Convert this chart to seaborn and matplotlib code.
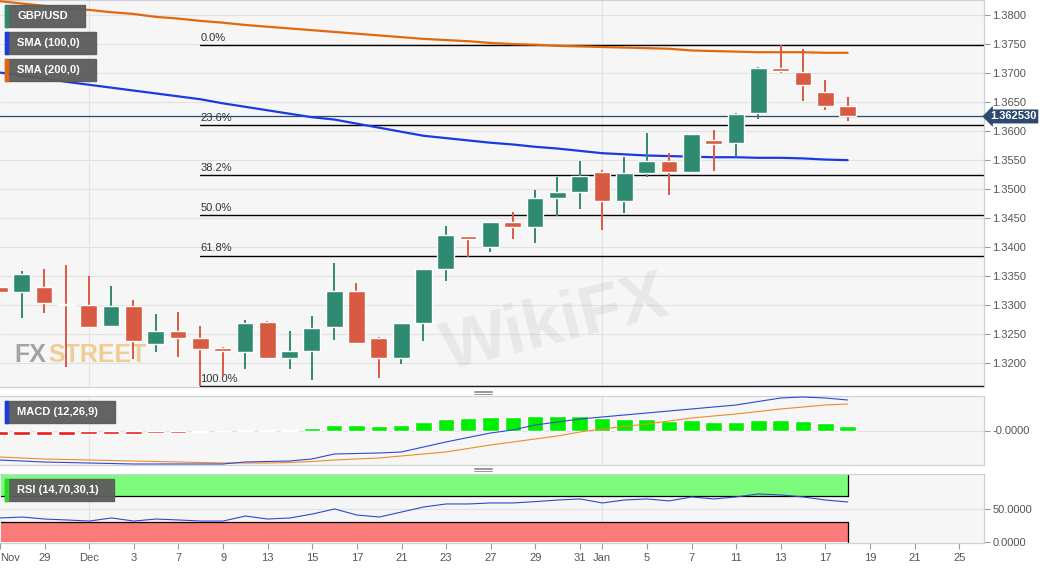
"""Recreate the GBP/USD daily chart with SMA, Fibonacci, MACD and RSI panels."""

from __future__ import annotations

import matplotlib

matplotlib.use("Agg")

import matplotlib.pyplot as plt
import matplotlib.transforms as mtransforms
import seaborn as sns
from matplotlib.lines import Line2D
from matplotlib.patches import Rectangle

OUTPUT_PATH = "out.png"
FIG_W, FIG_H = 1060, 569

# Trading-day index on the x axis: 0 is Mon 29 Nov 2021, 36 is Tue 18 Jan 2022.
DAYS = list(range(-2, 37))

OPEN = [1.3331, 1.3323, 1.3331, 1.3302, 1.3300, 1.3264, 1.3298, 1.3233, 1.3255, 1.3243,
        1.3226, 1.3219, 1.3271, 1.3209, 1.3221, 1.3262, 1.3324, 1.3243, 1.3209, 1.3269,
        1.3362, 1.3419, 1.3400, 1.3443, 1.3435, 1.3485, 1.3495, 1.3529, 1.3479, 1.3528,
        1.3548, 1.3529, 1.3585, 1.3579, 1.3631, 1.3709, 1.3702, 1.3667, 1.3643]
HIGH = [1.3352, 1.3359, 1.3362, 1.3369, 1.3350, 1.3333, 1.3309, 1.3285, 1.3288, 1.3264,
        1.3228, 1.3274, 1.3273, 1.3255, 1.3281, 1.3372, 1.3338, 1.3245, 1.3269, 1.3362,
        1.3436, 1.3420, 1.3443, 1.3460, 1.3498, 1.3521, 1.3548, 1.3533, 1.3555, 1.3597,
        1.3562, 1.3595, 1.3602, 1.3631, 1.3710, 1.3748, 1.3741, 1.3688, 1.3659]
LOW = [1.3305, 1.3278, 1.3286, 1.3193, 1.3260, 1.3262, 1.3207, 1.3219, 1.3210, 1.3161,
       1.3176, 1.3190, 1.3208, 1.3190, 1.3171, 1.3240, 1.3233, 1.3174, 1.3198, 1.3238,
       1.3341, 1.3383, 1.3391, 1.3414, 1.3407, 1.3454, 1.3466, 1.3429, 1.3459, 1.3521,
       1.3490, 1.3528, 1.3531, 1.3555, 1.3621, 1.3700, 1.3652, 1.3636, 1.3617]
CLOSE = [1.3323, 1.3354, 1.3304, 1.3300, 1.3262, 1.3298, 1.3238, 1.3255, 1.3243, 1.3224,
         1.3221, 1.3269, 1.3209, 1.3221, 1.3260, 1.3324, 1.3234, 1.3209, 1.3269, 1.3362,
         1.3421, 1.3414, 1.3443, 1.3435, 1.3485, 1.3495, 1.3522, 1.3479, 1.3528, 1.3548,
         1.3529, 1.3595, 1.3578, 1.3629, 1.3709, 1.3704, 1.3679, 1.3643, 1.36253]

SMA_100 = [1.3701, 1.3696, 1.3691, 1.3685, 1.3680, 1.3675, 1.3670, 1.3665, 1.3660, 1.3655,
           1.3648, 1.3642, 1.3636, 1.3630, 1.3624, 1.3620, 1.3613, 1.3606, 1.3599, 1.3592,
           1.3588, 1.3584, 1.3580, 1.3577, 1.3573, 1.3570, 1.3566, 1.3562, 1.3560, 1.3558,
           1.3557, 1.3556, 1.3555, 1.3555, 1.3554, 1.3554, 1.3553, 1.3551, 1.3550]
SMA_200 = [1.3824, 1.3820, 1.3816, 1.3812, 1.3809, 1.3805, 1.3802, 1.3797, 1.3794, 1.3790,
           1.3787, 1.3783, 1.3780, 1.3777, 1.3774, 1.3771, 1.3768, 1.3765, 1.3762, 1.3759,
           1.3757, 1.3755, 1.3752, 1.3750, 1.3749, 1.3747, 1.3746, 1.3745, 1.3744, 1.3743,
           1.3742, 1.3739, 1.3738, 1.3737, 1.3736, 1.3736, 1.3736, 1.3735, 1.3735]

MACD_LINE = [-0.0059, -0.0061, -0.0063, -0.0064, -0.0065, -0.0066, -0.0067, -0.0067, -0.0067,
             -0.0067, -0.0067, -0.0063, -0.0062, -0.0061, -0.0057, -0.0047, -0.0046, -0.0045,
             -0.0043, -0.0033, -0.0023, -0.0014, -0.0005, 0.0001, 0.0011, 0.0017, 0.0023,
             0.0027, 0.0031, 0.0035, 0.0039, 0.0043, 0.0047, 0.0051, 0.0058, 0.0065, 0.0067,
             0.0065, 0.0061]
MACD_SIGNAL = [-0.0053, -0.0055, -0.0057, -0.0058, -0.0059, -0.0060, -0.0061, -0.0062, -0.0063,
               -0.0064, -0.0065, -0.0065, -0.0065, -0.0064, -0.0062, -0.0059, -0.0057, -0.0055,
               -0.0051, -0.0047, -0.0043, -0.0036, -0.0029, -0.0023, -0.0017, -0.0011, -0.0003,
               0.0003, 0.0008, 0.0013, 0.0019, 0.0025, 0.0029, 0.0033, 0.0038, 0.0043, 0.0047,
               0.0051, 0.0053]
MACD_HIST = [-0.0008, -0.0008, -0.0008, -0.0008, -0.00074, -0.00066, -0.0006, -0.0005, -0.0004,
             -0.00026, -0.00016, 0.0001, 0.00014, 0.0002, 0.0006, 0.0012, 0.0011, 0.0009,
             0.0011, 0.0017, 0.0023, 0.0025, 0.0027, 0.0027, 0.0029, 0.0029, 0.0029, 0.0025,
             0.0023, 0.0023, 0.0019, 0.0021, 0.0017, 0.0017, 0.0021, 0.0021, 0.0019, 0.0015,
             0.0009]

RSI = [36.6, 38.0, 35.0, 33.6, 32.0, 36.6, 32.0, 35.0, 33.6, 32.0, 32.0, 39.5, 35.0, 36.6,
       42.5, 50.0, 41.0, 38.0, 45.5, 53.0, 57.5, 57.5, 59.0, 59.0, 61.0, 63.4, 65.0, 59.0,
       63.4, 65.0, 62.0, 68.0, 65.0, 68.0, 72.4, 71.0, 68.0, 63.4, 60.4]

FIB_HIGH = 1.3749
FIB_LOW = 1.3161
FIB_START_DAY = 7
FIB_RATIOS = [0.0, 0.236, 0.382, 0.5, 0.618, 1.0]
FIB_LABELS = ["0.0%", "23.6%", "38.2%", "50.0%", "61.8%", "100.0%"]
LAST_PRICE = 1.362530

PRICE_TICKS = [1.3200, 1.3250, 1.3300, 1.3350, 1.3400, 1.3450, 1.3500, 1.3550,
               1.3600, 1.3650, 1.3700, 1.3750, 1.3800]
TICK_DAYS = [-2, 0, 2, 4, 6, 8, 10, 12, 14, 16, 18, 20, 22, 24, 25, 27, 29, 31, 33,
             35, 37, 39, 41]
TICK_LABELS = ["Nov", "29", "Dec", "3", "7", "9", "13", "15", "17", "21", "23", "27",
               "29", "31", "Jan", "5", "7", "11", "13", "17", "19", "21", "25"]
MONTH_DAYS = [2, 25]

GREEN = "#2e8a70"
RED = "#d95a43"
SMA_100_COLOR = "#1a3be0"
SMA_200_COLOR = "#e0690f"
PANEL_BG = "#f6f6f6"
GRID = "#e2e2e2"
TEXT = "#555555"


def style_panel(ax):
    """Common look for the three stacked panels."""
    ax.set_facecolor(PANEL_BG)
    ax.set_xlim(-1.97, 42.11)
    for spine in ax.spines.values():
        spine.set_color("#cfd0d8")
        spine.set_linewidth(0.9)
    ax.spines["left"].set_visible(False)
    ax.yaxis.tick_right()
    ax.tick_params(axis="y", length=4, width=0.8, color="#999999",
                   labelcolor=TEXT, labelsize=8, pad=2)
    ax.tick_params(axis="x", bottom=False, labelbottom=False)
    ax.grid(False)
    for day in MONTH_DAYS:
        ax.axvline(day, color=GRID, lw=0.8, zorder=0)


def label_chip(fig, x0, y0, x1, y1, text, stripe):
    """Grey indicator badge with a coloured stripe, given in pixels."""
    fig.add_artist(Rectangle((x0 / FIG_W, 1 - y1 / FIG_H), (x1 - x0) / FIG_W,
                             (y1 - y0) / FIG_H, transform=fig.transFigure,
                             color="#5b5b5b", alpha=0.95, zorder=10))
    fig.add_artist(Rectangle((x0 / FIG_W, 1 - y1 / FIG_H), 3 / FIG_W,
                             (y1 - y0) / FIG_H, transform=fig.transFigure,
                             color=stripe, zorder=11))
    fig.text((x0 + 12) / FIG_W, 1 - (y0 + y1) / 2 / FIG_H, text, color="white",
             fontsize=8, fontweight="bold", va="center", ha="left", zorder=12)


def draw_price(ax):
    style_panel(ax)
    ax.set_ylim(1.3159, 1.3826)
    ax.set_yticks(PRICE_TICKS)
    ax.set_yticklabels([f"{p:.4f}" for p in PRICE_TICKS])
    for p in PRICE_TICKS:
        ax.axhline(p, color=GRID, lw=0.8, zorder=0)

    # watermarks
    ax.text(0.565, 0.16, "WikiFX", transform=ax.transAxes, fontsize=50,
            fontweight="bold", color="black", alpha=0.06, rotation=14,
            ha="center", va="center", zorder=1)
    fx = ax.text(0.015, 0.065, "FX", transform=ax.transAxes, fontsize=18,
                 fontweight="bold", color="#9a9a9a", alpha=0.9, zorder=1)
    ax.annotate("STREET", xy=(1, 0), xycoords=fx, xytext=(1, 0),
                textcoords="offset points", fontsize=18, fontweight="bold",
                color="#f0c88a", alpha=0.9, va="bottom", ha="left", zorder=1)

    # fibonacci retracement levels
    xmax = ax.get_xlim()[1]
    for ratio, label in zip(FIB_RATIOS, FIB_LABELS):
        level = FIB_HIGH - ratio * (FIB_HIGH - FIB_LOW)
        ax.plot([FIB_START_DAY, xmax], [level, level], color="black", lw=1.0, zorder=2)
        ax.annotate(label, (FIB_START_DAY, level), xytext=(0, 1.5),
                    textcoords="offset points", fontsize=8, color="#333333",
                    ha="left", va="bottom", zorder=2)

    ax.axhline(LAST_PRICE, color="#2c4a70", lw=0.9, zorder=2)

    sns.lineplot(x=DAYS, y=SMA_200, ax=ax, color=SMA_200_COLOR, lw=1.6, zorder=3)
    sns.lineplot(x=DAYS, y=SMA_100, ax=ax, color=SMA_100_COLOR, lw=1.6, zorder=3)

    colors = [GREEN if c >= o else RED for o, c in zip(OPEN, CLOSE)]
    ax.vlines(DAYS, LOW, HIGH, colors=colors, lw=1.4, zorder=4)
    bottoms = [min(o, c) for o, c in zip(OPEN, CLOSE)]
    heights = [max(abs(c - o), 0.00015) for o, c in zip(OPEN, CLOSE)]
    ax.bar(DAYS, heights, bottom=bottoms, width=0.75, color=colors, zorder=5)

    trans = mtransforms.blended_transform_factory(ax.transAxes, ax.transData)
    ax.text(1.006, LAST_PRICE, f"{LAST_PRICE:.6f}", transform=trans, fontsize=8,
            fontweight="bold", color="white", va="center", ha="left", zorder=10,
            bbox=dict(boxstyle="larrow,pad=0.18", fc="#2c4a70", ec="none"))


def draw_macd(ax):
    style_panel(ax)
    ax.set_ylim(-0.0069, 0.0069)
    ax.set_yticks([0.0])
    ax.set_yticklabels(["-0.0000"])
    ax.axhline(0, color=GRID, lw=0.8, zorder=0)
    hist_colors = ["#00ee00" if h >= 0 else "#ee1a1a" for h in MACD_HIST]
    ax.bar(DAYS, MACD_HIST, width=0.74, color=hist_colors, zorder=2)
    sns.lineplot(x=DAYS, y=MACD_SIGNAL, ax=ax, color="#f08a2c", lw=0.8, zorder=3)
    sns.lineplot(x=DAYS, y=MACD_LINE, ax=ax, color="#3048d0", lw=0.8, zorder=3)


def draw_rsi(ax):
    style_panel(ax)
    ax.set_ylim(-0.75, 102.2)
    ax.set_yticks([0, 50])
    ax.set_yticklabels(["0.0000", "50.0000"])
    ax.axhline(50, color=GRID, lw=0.8, zorder=0)
    left = ax.get_xlim()[0]
    end = DAYS[-1]
    ax.fill_between([left, end], 70, 100, color="#7dfb7d", zorder=1, lw=0)
    ax.fill_between([left, end], 0, 30, color="#fb7b7b", zorder=1, lw=0)
    ax.plot([left, end], [70, 70], color="black", lw=0.9, zorder=2)
    ax.plot([left, end], [30, 30], color="black", lw=0.9, zorder=2)
    ax.plot([end, end], [70, 100], color="black", lw=0.9, zorder=2)
    ax.plot([end, end], [0, 30], color="black", lw=0.9, zorder=2)
    sns.lineplot(x=DAYS, y=RSI, ax=ax, color="#3048d0", lw=0.8, zorder=3)

    ax.set_xticks(TICK_DAYS)
    ax.set_xticklabels(TICK_LABELS)
    ax.tick_params(axis="x", bottom=True, labelbottom=True, length=4, width=0.8,
                   color="#999999", labelcolor=TEXT, labelsize=8, pad=3)
    ax.get_xticklabels()[0].set_horizontalalignment("left")


def main() -> None:
    sns.set_style("white")
    plt.rcParams["font.family"] = ["Liberation Sans", "DejaVu Sans"]

    fig = plt.figure(figsize=(FIG_W / 100, FIG_H / 100), dpi=100)
    fig.patch.set_facecolor("white")
    right = 984 / FIG_W
    ax_price = fig.add_axes([0, 1 - 387 / FIG_H, right, 387 / FIG_H])
    ax_macd = fig.add_axes([0, 1 - 465 / FIG_H, right, 69 / FIG_H])
    ax_rsi = fig.add_axes([0, 1 - 543 / FIG_H, right, 69 / FIG_H])

    draw_price(ax_price)
    draw_macd(ax_macd)
    draw_rsi(ax_rsi)
    for ax in (ax_price, ax_macd, ax_rsi):
        ax.set_xlabel("")
        ax.set_ylabel("")

    label_chip(fig, 5, 5, 85, 27, "GBP/USD", GREEN)
    label_chip(fig, 5, 32, 96, 54, "SMA (100,0)", SMA_100_COLOR)
    label_chip(fig, 5, 59, 96, 81, "SMA (200,0)", SMA_200_COLOR)
    label_chip(fig, 5, 401, 115, 423, "MACD (12,26,9)", "#1a3be0")
    label_chip(fig, 5, 479, 114, 501, "RSI (14,70,30,1)", "#22dd22")

    # panel resize handles
    for y_px in (392, 469):
        for dy in (-1.5, 0, 1.5):
            y = 1 - (y_px + dy) / FIG_H
            fig.add_artist(Line2D([474 / FIG_W, 492 / FIG_W], [y, y],
                                  transform=fig.transFigure, color="#888888", lw=0.6))

    fig.savefig(OUTPUT_PATH, dpi=100)
    plt.close(fig)


if __name__ == "__main__":
    main()
